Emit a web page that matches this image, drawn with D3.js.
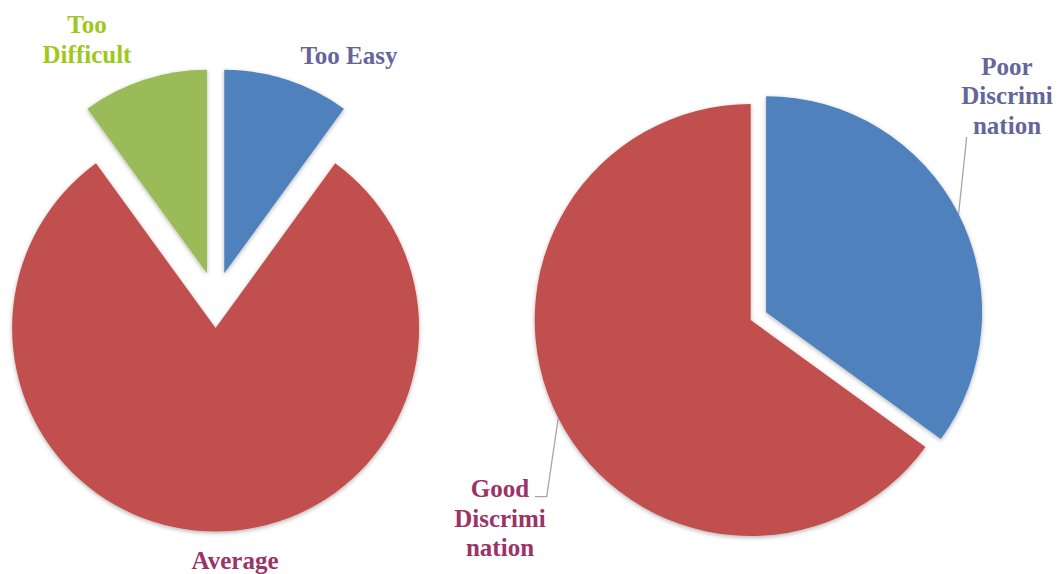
<!DOCTYPE html>
<html>
<head>
<meta charset="utf-8">
<script src="https://cdn.jsdelivr.net/npm/d3@7/dist/d3.min.js"></script>
</head>
<body style="margin:0;padding:0;background:#ffffff">
<div id="wrap" style="position:relative;width:1058px;height:574px;overflow:hidden">
<svg id="s" width="1058" height="574" style="display:block;position:absolute;left:0;top:0"></svg>
</div>
<script>
// ---- data ----
const difficultyCategories = ["Too Easy", "Average", "Too Difficult"];
const difficultyValues = [10, 80, 10];
const discriminationCategories = ["Poor Discrimination", "Good Discrimination"];
const discriminationValues = [35, 65];

// ---- styling / layout ----
const sliceColors = { "Too Easy": "#4f81bd", "Average": "#c0504d", "Too Difficult": "#9bbb59",
                      "Poor Discrimination": "#4f81bd", "Good Discrimination": "#c0504d" };
const labelColors = { "Too Easy": "#65659b", "Average": "#9c3366", "Too Difficult": "#9ec81c",
                      "Poor Discrimination": "#65659b", "Good Discrimination": "#9c3366" };

const svg = d3.select("#s");
const wrap = d3.select("#wrap");
const defs = svg.append("defs");
const f = defs.append("filter").attr("id", "shadow").attr("x", "-20%").attr("y", "-20%").attr("width", "140%").attr("height", "140%");
f.append("feDropShadow").attr("dx", 0).attr("dy", 1.5).attr("stdDeviation", 2.2).attr("flood-color", "#000").attr("flood-opacity", 0.3);

function drawPie(cfg) {
  const data = cfg.categories.map((c, i) => ({ cat: c, value: cfg.values[i] }));
  const pie = d3.pie().sort(null).value(d => d.value).startAngle(0).endAngle(2 * Math.PI);
  const arcs = pie(data);
  const arc = d3.arc().innerRadius(0).outerRadius(cfg.r);
  const g = svg.append("g").attr("transform", `translate(${cfg.cx},${cfg.cy})`);
  arcs.forEach(a => {
    const mid = (a.startAngle + a.endAngle) / 2;
    const d = cfg.explode[a.data.cat] || 0;
    const ox = d * Math.sin(mid), oy = -d * Math.cos(mid);
    a.ox = ox; a.oy = oy; a.mid = mid;
    g.append("path")
      .attr("d", arc(a))
      .attr("transform", `translate(${ox},${oy})`)
      .attr("fill", sliceColors[a.data.cat])
      .attr("filter", "url(#shadow)");
  });
  return { g, arcs };
}

// HTML labels: each line centred on x, baseline at y (font-size 25px, ascent ~ 0.891em)
function drawLabel(lines, x, y0, color, lh) {
  lines.forEach((ln, i) => {
    wrap.append("div")
      .style("position", "absolute")
      .style("left", (x - 150) + "px")
      .style("width", "300px")
      .style("text-align", "center")
      .style("top", (y0 + i * lh - 25 * 0.891) + "px")
      .style("font-family", "'Liberation Serif', 'Times New Roman', serif")
      .style("font-weight", "bold")
      .style("font-size", "25px")
      .style("line-height", "1.15")
      .style("white-space", "nowrap")
      .style("color", color)
      .text(ln);
  });
}

// Left pie
drawPie({ categories: difficultyCategories, values: difficultyValues,
          cx: 215.6, cy: 300, r: 203.5,
          explode: { "Too Easy": 28, "Average": 28, "Too Difficult": 28 } });

// Right pie
const right = { categories: discriminationCategories, values: discriminationValues,
                cx: 750.7, cy: 320, r: 216,
                explode: { "Poor Discrimination": 17.3, "Good Discrimination": 0 } };
const rp = drawPie(right);

// leader lines (start on the slice's outer arc at its mid-angle)
function arcPoint(a) {
  return [right.cx + a.ox + right.r * Math.sin(a.mid), right.cy + a.oy - right.r * Math.cos(a.mid)];
}
const [pX, pY] = arcPoint(rp.arcs[0]);
svg.append("polyline").attr("points", `${pX},${pY} 966.7,137`)
  .attr("fill", "none").attr("stroke", "#a6a6a6").attr("stroke-width", 1.3);
const [gX, gY] = arcPoint(rp.arcs[1]);
svg.append("polyline").attr("points", `${gX},${gY} 546.7,496.7 535,496.7`)
  .attr("fill", "none").attr("stroke", "#a6a6a6").attr("stroke-width", 1.3);

// Labels
drawLabel(["Too", "Difficult"], 87, 33, labelColors["Too Difficult"], 30);
drawLabel(["Too Easy"], 349, 64, labelColors["Too Easy"], 30);
drawLabel(["Average"], 235, 569, labelColors["Average"], 30);
drawLabel(["Poor", "Discrimi", "nation"], 1007, 75, labelColors["Poor Discrimination"], 29.5);
drawLabel(["Good", "Discrimi", "nation"], 500, 497, labelColors["Good Discrimination"], 29.8);
</script>
</body>
</html>
